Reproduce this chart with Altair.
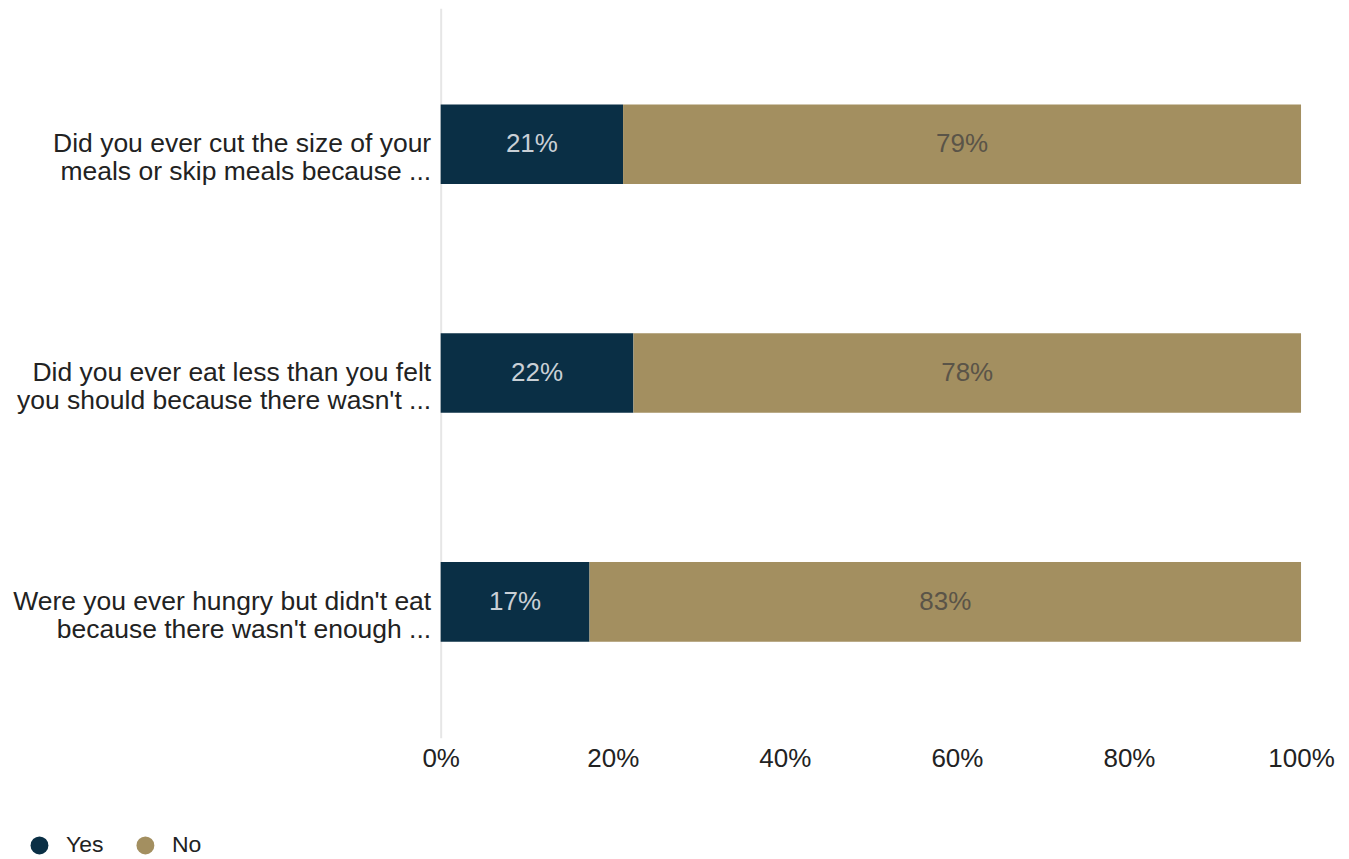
import altair as alt
import pandas as pd

questions = [
    "Did you ever cut the size of your|meals or skip meals because ...",
    "Did you ever eat less than you felt|you should because there wasn't ...",
    "Were you ever hungry but didn't eat|because there wasn't enough ...",
]
yes_vals = [0.212, 0.224, 0.173]
no_vals = [0.788, 0.776, 0.827]
responses = ["Yes", "No"]
colors = ["#0a2f45", "#a38f60"]
text_colors = ["#c9d0d6", "#5a5448"]

rows = []
for q, y, n in zip(questions, yes_vals, no_vals):
    rows.append({"q": q, "resp": "Yes", "val": y, "ord": 0})
    rows.append({"q": q, "resp": "No", "val": n, "ord": 1})
df = pd.DataFrame(rows)

FONT = "Liberation Sans"

base = alt.Chart(df).transform_stack(
    stack="val", groupby=["q"], as_=["x0", "x1"], sort=[alt.SortField("ord")]
).transform_calculate(mid="(datum.x0 + datum.x1) / 2")

yenc = alt.Y(
    "q:N",
    sort=questions,
    title=None,
    scale=alt.Scale(paddingInner=0.652, paddingOuter=0.42),
    axis=alt.Axis(
        labelExpr="split(datum.label, '|')",
        labelFontSize=26.5,
        labelColor="#222222",
        labelFont=FONT,
        labelLineHeight=28,
        labelPadding=10,
        ticks=False,
        domain=True,
        domainColor="#e6e6e6",
        domainWidth=2,
        labelLimit=600,
    ),
)

bars = base.mark_bar().encode(
    y=yenc,
    x=alt.X(
        "x0:Q",
        title=None,
        scale=alt.Scale(domain=[0, 1]),
        axis=alt.Axis(
            format=".0%",
            values=[0, 0.2, 0.4, 0.6, 0.8, 1.0],
            labelFontSize=26,
            labelColor="#222222",
            labelFont=FONT,
            ticks=False,
            domain=False,
            grid=False,
            labelPadding=8,
            labelFlush=False,
        ),
    ),
    x2="x1:Q",
    color=alt.Color(
        "resp:N",
        sort=responses,
        scale=alt.Scale(domain=responses, range=colors),
        legend=alt.Legend(
            title=None,
            orient="none",
            legendX=-413,
            legendY=826,
            direction="horizontal",
            symbolType="circle",
            symbolSize=320,
            symbolStrokeWidth=0,
            labelFontSize=23,
            labelFont=FONT,
            labelColor="#222222",
            columnPadding=30,
            labelOffset=15,
        ),
    ),
)

texts = base.mark_text(fontSize=26, font=FONT).encode(
    y=alt.Y("q:N", sort=questions),
    x=alt.X("mid:Q"),
    text=alt.Text("val:Q", format=".0%"),
    color=alt.Color(
        "resp:N", scale=alt.Scale(domain=responses, range=text_colors), legend=None
    ),
)

chart = (
    alt.layer(bars, texts)
    .resolve_scale(color="independent")
    .properties(
        width=861,
        height=730,
        autosize=alt.AutoSizeParams(type="none"),
        padding={"left": 433, "top": 0, "right": 40, "bottom": 121},
    )
    .configure_view(stroke=None)
)

chart.save("out.html", embed_options={"renderer": "svg", "actions": False})
